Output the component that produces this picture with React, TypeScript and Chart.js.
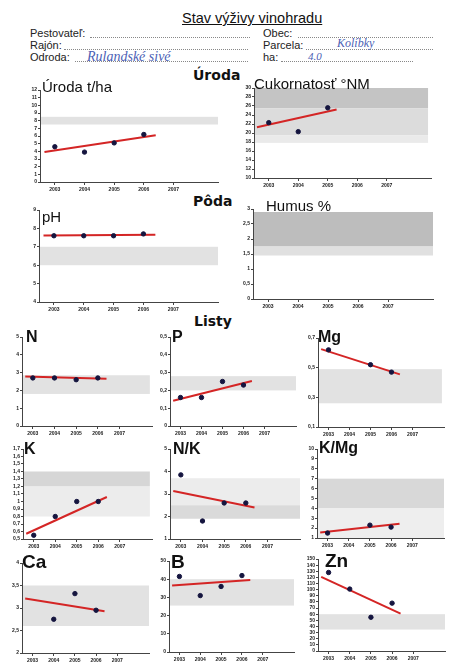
import React, { useEffect, useRef } from "react";
import { Chart, registerables } from "chart.js";
Chart.register(...registerables);

// ---------- data ----------
const tickYears = [2003, 2004, 2005, 2006, 2007];
const dataYears = [2003, 2004, 2005, 2006];
const xRange = [2002.5, 2008.5];
const trendYears = [2002.65, 2006.4];
const trendYearsShort = [2002.6, 2005.3];

const urodaYTicks = [0, 1, 2, 3, 4, 5, 6, 7, 8, 9, 10, 11, 12];
const urodaValues = [4.6, 3.9, 5.1, 6.2];
const urodaTrend = [3.9, 6.1];
const urodaBand = [7.5, 8.5];

const cukorYTicks = [10, 12, 14, 16, 18, 20, 22, 24, 26, 28, 30];
const cukorValues = [22.3, 20.3, 25.6, null];
const cukorTrend = [21.3, 25.2];
const cukorBandHigh = [25.5, 30];
const cukorBandMid = [19.5, 25.5];
const cukorBandLow = [17.8, 19.5];

const phYTicks = [4, 5, 6, 7, 8, 9];
const phValues = [7.6, 7.6, 7.6, 7.7];
const phTrend = [7.62, 7.66];
const phBand = [6, 7];

const humusYTicks = [0, 0.5, 1, 1.5, 2, 2.5, 3];
const humusBandHigh = [1.75, 2.9];
const humusBandLow = [1.45, 1.75];

const nYTicks = [0, 1, 2, 3, 4, 5];
const nValues = [2.7, 2.7, 2.6, 2.7];
const nTrend = [2.78, 2.65];
const nBand = [1.8, 2.85];

const pYTicks = [0, 0.1, 0.2, 0.3, 0.4, 0.5];
const pValues = [0.16, 0.16, 0.25, 0.23];
const pTrend = [0.142, 0.253];
const pBand = [0.2, 0.28];

const mgYTicks = [0.1, 0.3, 0.5, 0.7];
const mgValues = [0.62, null, 0.52, 0.47];
const mgTrend = [0.625, 0.455];
const mgBand = [0.26, 0.49];

const kYTicks = [0.5, 0.6, 0.7, 0.8, 0.9, 1, 1.1, 1.2, 1.3, 1.4, 1.5, 1.6, 1.7];
const kValues = [0.55, 0.8, 1.0, 1.0];
const kTrend = [0.57, 1.06];
const kBandHigh = [1.2, 1.4];
const kBandLow = [0.8, 1.2];

const nkYTicks = [1, 2, 3, 4, 5];
const nkValues = [3.85, 1.8, 2.6, 2.6];
const nkTrend = [3.13, 2.4];
const nkBandHigh = [2.5, 3.7];
const nkBandLow = [1.9, 2.5];

const kmgYTicks = [1, 2, 3, 4, 5, 6, 7, 8, 9, 10];
const kmgValues = [1.5, null, 2.3, 2.1];
const kmgTrend = [1.55, 2.45];
const kmgBandHigh = [4, 7];
const kmgBandLow = [1, 4];

const caYTicks = [2, 2.5, 3, 3.5, 4];
const caValues = [null, 2.75, 3.32, 2.95];
const caTrend = [3.21, 2.93];
const caBand = [2.6, 3.5];

const bYTicks = [0, 10, 20, 30, 40, 50];
const bValues = [41.5, 31, 36, 42];
const bTrend = [36.5, 39.5];
const bBand = [25.5, 40];

const znYTicks = [0, 10, 20, 30, 40, 50, 60, 70, 80, 90, 100, 110, 120, 130, 140, 150];
const znValues = [128, 101, 55, 78];
const znTrend = [121, 61];
const znBand = [35, 60];

// ---------- styles / layout ----------
const SANS = '"Liberation Sans", Arial, Helvetica, sans-serif';
const BAND = "#e2e2e2";

type Band = { range: number[]; color: string };
type Cfg = {
  title: string;
  tSize: number;
  tBold: boolean;
  tLeft: number;
  tTop: number;
  axisX: number;
  plotTop: number;
  plotBottom: number;
  plotRight: number;
  yTicks: number[];
  values: (number | null)[];
  trend: number[] | null;
  span: number[];
  bands: Band[];
  bandEnd: number;
};

const CHARTS: Cfg[] = [
  { title: "Úroda t/ha", tSize: 15, tBold: false, tLeft: 42, tTop: 79, axisX: 40, plotTop: 90, plotBottom: 182, plotRight: 220,
    yTicks: urodaYTicks, values: urodaValues, trend: urodaTrend, span: trendYears, bands: [{ range: urodaBand, color: BAND }], bandEnd: 2008.5 },
  { title: "Cukornatosť °NM", tSize: 15, tBold: false, tLeft: 254, tTop: 76, axisX: 254, plotTop: 88, plotBottom: 178, plotRight: 433,
    yTicks: cukorYTicks, values: cukorValues, trend: cukorTrend, span: trendYearsShort,
    bands: [{ range: cukorBandHigh, color: "#c4c4c4" }, { range: cukorBandMid, color: "#dcdcdc" }, { range: cukorBandLow, color: "#eaeaea" }], bandEnd: 2008.4 },
  { title: "pH", tSize: 15, tBold: false, tLeft: 42, tTop: 209, axisX: 39, plotTop: 210, plotBottom: 302, plotRight: 220,
    yTicks: phYTicks, values: phValues, trend: phTrend, span: trendYears, bands: [{ range: phBand, color: BAND }], bandEnd: 2008.5 },
  { title: "Humus %", tSize: 15, tBold: false, tLeft: 266, tTop: 198, axisX: 253, plotTop: 209, plotBottom: 299, plotRight: 433,
    yTicks: humusYTicks, values: [], trend: null, span: trendYears,
    bands: [{ range: humusBandHigh, color: "#bdbdbd" }, { range: humusBandLow, color: "#e0e0e0" }], bandEnd: 2008.5 },
  { title: "N", tSize: 16, tBold: true, tLeft: 26, tTop: 329, axisX: 22, plotTop: 337, plotBottom: 426, plotRight: 154,
    yTicks: nYTicks, values: nValues, trend: nTrend, span: trendYears, bands: [{ range: nBand, color: BAND }], bandEnd: 2008.4 },
  { title: "P", tSize: 16, tBold: true, tLeft: 172, tTop: 329, axisX: 170, plotTop: 337, plotBottom: 426, plotRight: 298,
    yTicks: pYTicks, values: pValues, trend: pTrend, span: trendYears, bands: [{ range: pBand, color: BAND }], bandEnd: 2008.5 },
  { title: "Mg", tSize: 16, tBold: true, tLeft: 318, tTop: 329, axisX: 318, plotTop: 338, plotBottom: 427, plotRight: 446,
    yTicks: mgYTicks, values: mgValues, trend: mgTrend, span: trendYears, bands: [{ range: mgBand, color: BAND }], bandEnd: 2008.4 },
  { title: "K", tSize: 16, tBold: true, tLeft: 24, tTop: 441, axisX: 23, plotTop: 449, plotBottom: 539, plotRight: 154,
    yTicks: kYTicks, values: kValues, trend: kTrend, span: trendYears,
    bands: [{ range: kBandHigh, color: "#d6d6d6" }, { range: kBandLow, color: "#ececec" }], bandEnd: 2008.4 },
  { title: "N/K", tSize: 16, tBold: true, tLeft: 173, tTop: 441, axisX: 170, plotTop: 449, plotBottom: 539, plotRight: 302,
    yTicks: nkYTicks, values: nkValues, trend: nkTrend, span: trendYears,
    bands: [{ range: nkBandHigh, color: "#ececec" }, { range: nkBandLow, color: "#dadada" }], bandEnd: 2008.5 },
  { title: "K/Mg", tSize: 16, tBold: true, tLeft: 319, tTop: 440, axisX: 317, plotTop: 449, plotBottom: 538, plotRight: 446,
    yTicks: kmgYTicks, values: kmgValues, trend: kmgTrend, span: trendYears,
    bands: [{ range: kmgBandHigh, color: "#d8d8d8" }, { range: kmgBandLow, color: "#eeeeee" }], bandEnd: 2008.5 },
  { title: "Ca", tSize: 19, tBold: true, tLeft: 22, tTop: 552, axisX: 22, plotTop: 563, plotBottom: 653, plotRight: 151,
    yTicks: caYTicks, values: caValues, trend: caTrend, span: trendYears, bands: [{ range: caBand, color: BAND }], bandEnd: 2008.5 },
  { title: "B", tSize: 19, tBold: true, tLeft: 171, tTop: 552, axisX: 169, plotTop: 561, plotBottom: 652, plotRight: 296,
    yTicks: bYTicks, values: bValues, trend: bTrend, span: trendYears, bands: [{ range: bBand, color: BAND }], bandEnd: 2008.5 },
  { title: "Zn", tSize: 19, tBold: true, tLeft: 325, tTop: 551, axisX: 318, plotTop: 559, plotBottom: 651, plotRight: 447,
    yTicks: znYTicks, values: znValues, trend: znTrend, span: trendYears, bands: [{ range: znBand, color: BAND }], bandEnd: 2008.5 },
];

const Y_W = 20;
const PAD_TOP = 6;
const PAD_RIGHT = 3;
const X_H = 14;

const fmt = (v: number) => String(Math.round(v * 100) / 100).replace(".", ",");

function makeBandPlugin(bands: Band[], bandEnd: number) {
  return {
    id: "bands",
    beforeDraw(chart: any) {
      const { ctx, chartArea, scales } = chart;
      const x = scales.x;
      const y = scales.y;
      ctx.save();
      bands.forEach((b) => {
        const x0 = chartArea.left;
        const x1 = x.getPixelForValue(bandEnd);
        const yTop = y.getPixelForValue(b.range[1]);
        const yBot = y.getPixelForValue(b.range[0]);
        ctx.fillStyle = b.color;
        ctx.fillRect(x0, yTop, x1 - x0, yBot - yTop);
      });
      ctx.restore();
    },
  };
}

function MiniChart({ c }: { c: Cfg }) {
  const ref = useRef<HTMLCanvasElement | null>(null);
  const w = c.plotRight - c.axisX + Y_W + PAD_RIGHT;
  const h = c.plotBottom - c.plotTop + PAD_TOP + X_H;

  useEffect(() => {
    if (!ref.current) return;
    const pts = dataYears
      .map((yr, i) => ({ x: yr, y: c.values[i] }))
      .filter((p) => p.y !== null && p.y !== undefined);
    const trendData = c.trend
      ? [
          { x: c.span[0], y: c.trend[0] },
          { x: c.span[1], y: c.trend[1] },
        ]
      : [];
    const axisColor = "#444";
    const tickFont = { size: 5, weight: "bold" as const, family: SANS };
    const chart = new Chart(ref.current, {
      type: "scatter",
      data: {
        datasets: [
          {
            type: "line",
            data: trendData,
            borderColor: "#d42525",
            borderWidth: 2,
            pointRadius: 0,
            fill: false,
            order: 2,
          } as any,
          {
            type: "scatter",
            data: pts as any,
            backgroundColor: "#15153f",
            borderColor: "#15153f",
            pointRadius: 2.2,
            order: 1,
          },
        ],
      },
      options: {
        animation: false,
        responsive: false,
        maintainAspectRatio: false,
        events: [],
        layout: { padding: { top: PAD_TOP, right: PAD_RIGHT, left: 0, bottom: 0 } },
        plugins: { legend: { display: false }, tooltip: { enabled: false }, title: { display: false } },
        scales: {
          x: {
            type: "linear",
            min: xRange[0],
            max: xRange[1],
            afterBuildTicks: (axis: any) => {
              axis.ticks = tickYears.map((v) => ({ value: v }));
            },
            afterFit: (s: any) => {
              s.height = X_H;
            },
            grid: { drawOnChartArea: false, drawTicks: true, tickLength: 3, color: axisColor },
            border: { color: axisColor, width: 1 },
            ticks: {
              font: tickFont,
              color: "#222",
              padding: 2,
              maxRotation: 0,
              autoSkip: false,
              callback: (v: any) => String(v),
            },
          },
          y: {
            type: "linear",
            min: c.yTicks[0],
            max: c.yTicks[c.yTicks.length - 1],
            afterBuildTicks: (axis: any) => {
              axis.ticks = c.yTicks.map((v) => ({ value: v }));
            },
            afterFit: (s: any) => {
              s.width = Y_W;
            },
            grid: { drawOnChartArea: false, drawTicks: true, tickLength: 2, color: axisColor },
            border: { color: axisColor, width: 1 },
            ticks: {
              font: tickFont,
              color: "#222",
              padding: 1,
              autoSkip: false,
              callback: (v: any) => fmt(Number(v)),
            },
          },
        },
      },
      plugins: [makeBandPlugin(c.bands, c.bandEnd)],
    });
    return () => chart.destroy();
  }, []);

  return (
    <canvas
      ref={ref}
      width={w}
      height={h}
      style={{ position: "absolute", left: c.axisX - Y_W, top: c.plotTop - PAD_TOP, width: w, height: h }}
    />
  );
}

const abs = (left: number, top: number, extra: any = {}) => ({
  position: "absolute" as const,
  left,
  top,
  whiteSpace: "nowrap" as const,
  ...extra,
});

function Dots({ left, top, width }: { left: number; top: number; width: number }) {
  return <div style={abs(left, top, { width, height: 0, borderBottom: "1px dotted #888" })} />;
}

const labelStyle = { fontSize: 11, lineHeight: "11px", fontFamily: SANS, color: "#222" };
const handStyle = { fontFamily: '"Liberation Serif", "DejaVu Serif", serif', fontStyle: "italic", color: "#4c5fb5" };
const headStyle = { fontFamily: '"DejaVu Sans", sans-serif', fontWeight: "bold", fontSize: 14, lineHeight: "14px", color: "#111" };

export default function App() {
  return (
    <div style={{ position: "absolute", left: 0, top: 0, width: 456, height: 672, background: "#fff", overflow: "hidden", fontFamily: SANS }}>
      <div style={abs(182, 11, { fontSize: 14.5, lineHeight: "14.5px", textDecoration: "underline", color: "#111" })}>Stav výživy vinohradu</div>

      <div style={abs(30, 28, labelStyle)}>Pestovateľ:</div>
      <Dots left={90} top={37} width={160} />
      <div style={abs(263, 28, labelStyle)}>Obec:</div>
      <Dots left={298} top={37} width={135} />

      <div style={abs(30, 40, labelStyle)}>Rajón:</div>
      <Dots left={64} top={49} width={184} />
      <div style={abs(263, 40, labelStyle)}>Parcela:</div>
      <Dots left={306} top={49} width={127} />

      <div style={abs(30, 52, labelStyle)}>Odroda:</div>
      <Dots left={75} top={61} width={173} />
      <div style={abs(263, 52, labelStyle)}>ha:</div>
      <Dots left={281} top={61} width={132} />

      <div style={abs(87, 50, { ...handStyle, fontSize: 14, lineHeight: "14px" })}>Rulandské sivé</div>
      <div style={abs(337, 37, { ...handStyle, fontSize: 12, lineHeight: "12px" })}>Kolíbky</div>
      <div style={abs(308, 51, { ...handStyle, fontSize: 11, lineHeight: "11px" })}>4.0</div>

      <div style={abs(193, 68, headStyle)}>Úroda</div>
      <div style={abs(193, 194, headStyle)}>Pôda</div>
      <div style={abs(194, 314, headStyle)}>Listy</div>

      {CHARTS.map((c, i) => (
        <MiniChart key={i} c={c} />
      ))}
      {CHARTS.map((c, i) => (
        <div
          key={"t" + i}
          style={abs(c.tLeft, c.tTop, {
            fontSize: c.tSize,
            lineHeight: c.tSize + "px",
            fontWeight: c.tBold ? "bold" : "normal",
            color: "#111",
            fontFamily: SANS,
          })}
        >
          {c.title}
        </div>
      ))}
    </div>
  );
}
